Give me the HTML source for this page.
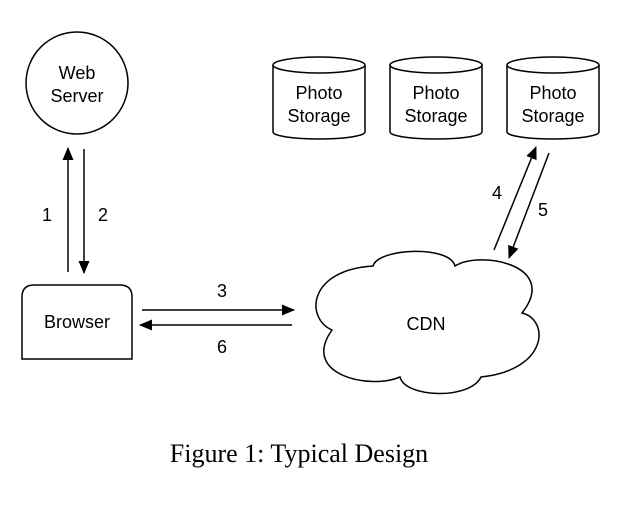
<!DOCTYPE html>
<html><head><style>html,body{margin:0;padding:0;background:#fff}</style></head><body>
<svg width="630" height="502" viewBox="0 0 630 502" xmlns="http://www.w3.org/2000/svg" font-family="Liberation Sans, sans-serif">
<defs><marker id="a" markerWidth="13" markerHeight="11" refX="12" refY="5.5" orient="auto" markerUnits="userSpaceOnUse"><path d="M0,0 L13,5.5 L0,11 z" fill="#000"/></marker></defs>
<g fill="none" stroke="#000" stroke-width="1.5">
<circle cx="77" cy="83" r="51" fill="#fff"/>
<path d="M22,359 V297 Q22,285 34,285 H120 Q132,285 132,297 V359 Z"/>
<line x1="68" y1="272" x2="68" y2="148" marker-end="url(#a)"/>
<line x1="84" y1="149" x2="84" y2="273" marker-end="url(#a)"/>
<line x1="142" y1="310" x2="294" y2="310" marker-end="url(#a)"/>
<line x1="292" y1="325" x2="140" y2="325" marker-end="url(#a)"/>
<line x1="494" y1="250" x2="536" y2="147" marker-end="url(#a)"/>
<line x1="549" y1="153" x2="509" y2="258" marker-end="url(#a)"/>
<path d="M332,330 C305,318 308,270 373,266 C378,248 450,245 455,266 C480,250 560,265 522,313 C550,320 548,370 481,377 C470,400 405,398 400,377 C370,390 300,375 332,330 Z"/>
<g id="c"><path d="M273,65 V132 A46,7 0 0 0 365,132 V65"/><ellipse cx="319" cy="65" rx="46" ry="8"/></g>
<use href="#c" x="117"/><use href="#c" x="234"/>
</g>
<g font-size="18" text-anchor="middle" fill="#000">
<text x="77" y="79">Web</text><text x="77" y="102">Server</text>
<text x="77" y="328">Browser</text>
<text x="47" y="221">1</text><text x="103" y="221">2</text>
<text x="222" y="297">3</text><text x="222" y="353">6</text>
<text x="497" y="199">4</text><text x="543" y="216">5</text>
<text x="426" y="330">CDN</text>
<text x="319" y="99">Photo</text><text x="319" y="122">Storage</text>
<text x="436" y="99">Photo</text><text x="436" y="122">Storage</text>
<text x="553" y="99">Photo</text><text x="553" y="122">Storage</text>
</g>
<text x="299" y="462" font-family="Liberation Serif, serif" font-size="26" text-anchor="middle">Figure 1: Typical Design</text>
</svg>
</body></html>
